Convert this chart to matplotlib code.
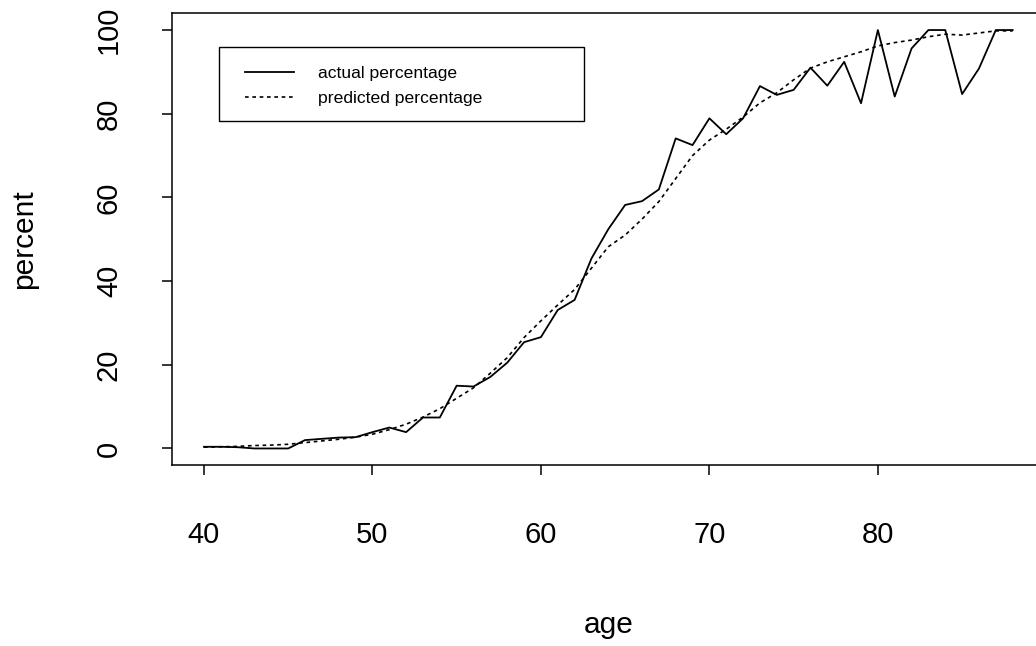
import matplotlib.pyplot as plt
from matplotlib.patches import Rectangle

plt.rcParams['font.family'] = ['Liberation Sans', 'DejaVu Sans']

ages = list(range(40, 89))
actual = [0.4, 0.4, 0.3, 0.0, 0.0, 0.0, 2.0, 2.3, 2.6, 2.7,
          3.9, 5.0, 3.9, 7.4, 7.4, 15.0, 14.8, 17.1, 20.5, 25.4,
          26.6, 33.1, 35.5, 45.4, 52.4, 58.2, 59.1, 61.9, 74.1, 72.5,
          78.9, 75.1, 78.9, 86.6, 84.5, 85.7, 91.0, 86.7, 92.4, 82.5,
          100.0, 84.1, 95.6, 100.0, 100.0, 84.7, 90.8, 100.0, 100.0]
predicted = [0.3, 0.4, 0.5, 0.7, 0.8, 1.0, 1.4, 1.8, 2.2, 2.7,
             3.4, 4.5, 5.8, 7.5, 9.5, 12.0, 14.5, 18.0, 21.7, 26.5,
             30.5, 34.3, 38.0, 43.1, 48.2, 51.0, 54.8, 59.0, 64.5, 70.0,
             73.7, 76.3, 79.2, 82.6, 85.0, 88.1, 90.9, 92.4, 93.6, 94.8,
             96.2, 97.0, 97.6, 98.4, 99.0, 98.8, 99.3, 99.8, 99.8]
xticks = [40, 50, 60, 70, 80]
yticks = [0, 20, 40, 60, 80, 100]

fig = plt.figure(figsize=(10.36, 6.46), dpi=100)
ax = fig.add_axes([171.6 / 1036, 180.8 / 646, 873.4 / 1036, 451.9 / 646])

ax.plot(ages, actual, color='black', linewidth=1.3, label='actual percentage')
ax.plot(ages, predicted, color='black', linewidth=1.2, linestyle=(0, (2.2, 2.2)),
        label='predicted percentage')

ax.set_xlim(38.08, 89.92)
ax.set_ylim(-4, 104)
ax.set_xticks(xticks)
ax.set_yticks(yticks)
ax.set_yticklabels([str(v) for v in yticks], rotation=90, va='center')
ax.tick_params(axis='both', direction='out', length=7, width=1.1, labelsize=21)
ax.tick_params(axis='x', pad=33)
ax.tick_params(axis='y', pad=28)
for s in ax.spines.values():
    s.set_linewidth(1.1)

ax.set_xlabel('age', fontsize=21.5, labelpad=44.5)
ax.set_ylabel('percent', fontsize=21.5, labelpad=41)

# legend box, R style with fixed width
x0 = (219 - 171.6) / 873.4
y1 = 1 - (46.7 - 13.3) / 451.9
w = (584 - 219) / 873.4
h = (120.7 - 46.7) / 451.9
ax.add_patch(Rectangle((x0, y1 - h), w, h, transform=ax.transAxes, fill=False,
                       edgecolor='black', linewidth=1.0, zorder=5))
ax.legend(loc='upper left', bbox_to_anchor=(x0 + 10 / 873.4, y1 - 3 / 451.9),
          frameon=False, fontsize=12.6, handlelength=2.8, handletextpad=1.4,
          borderpad=0.9, borderaxespad=0, labelspacing=0.56)

fig.savefig('out.png', dpi=100)
